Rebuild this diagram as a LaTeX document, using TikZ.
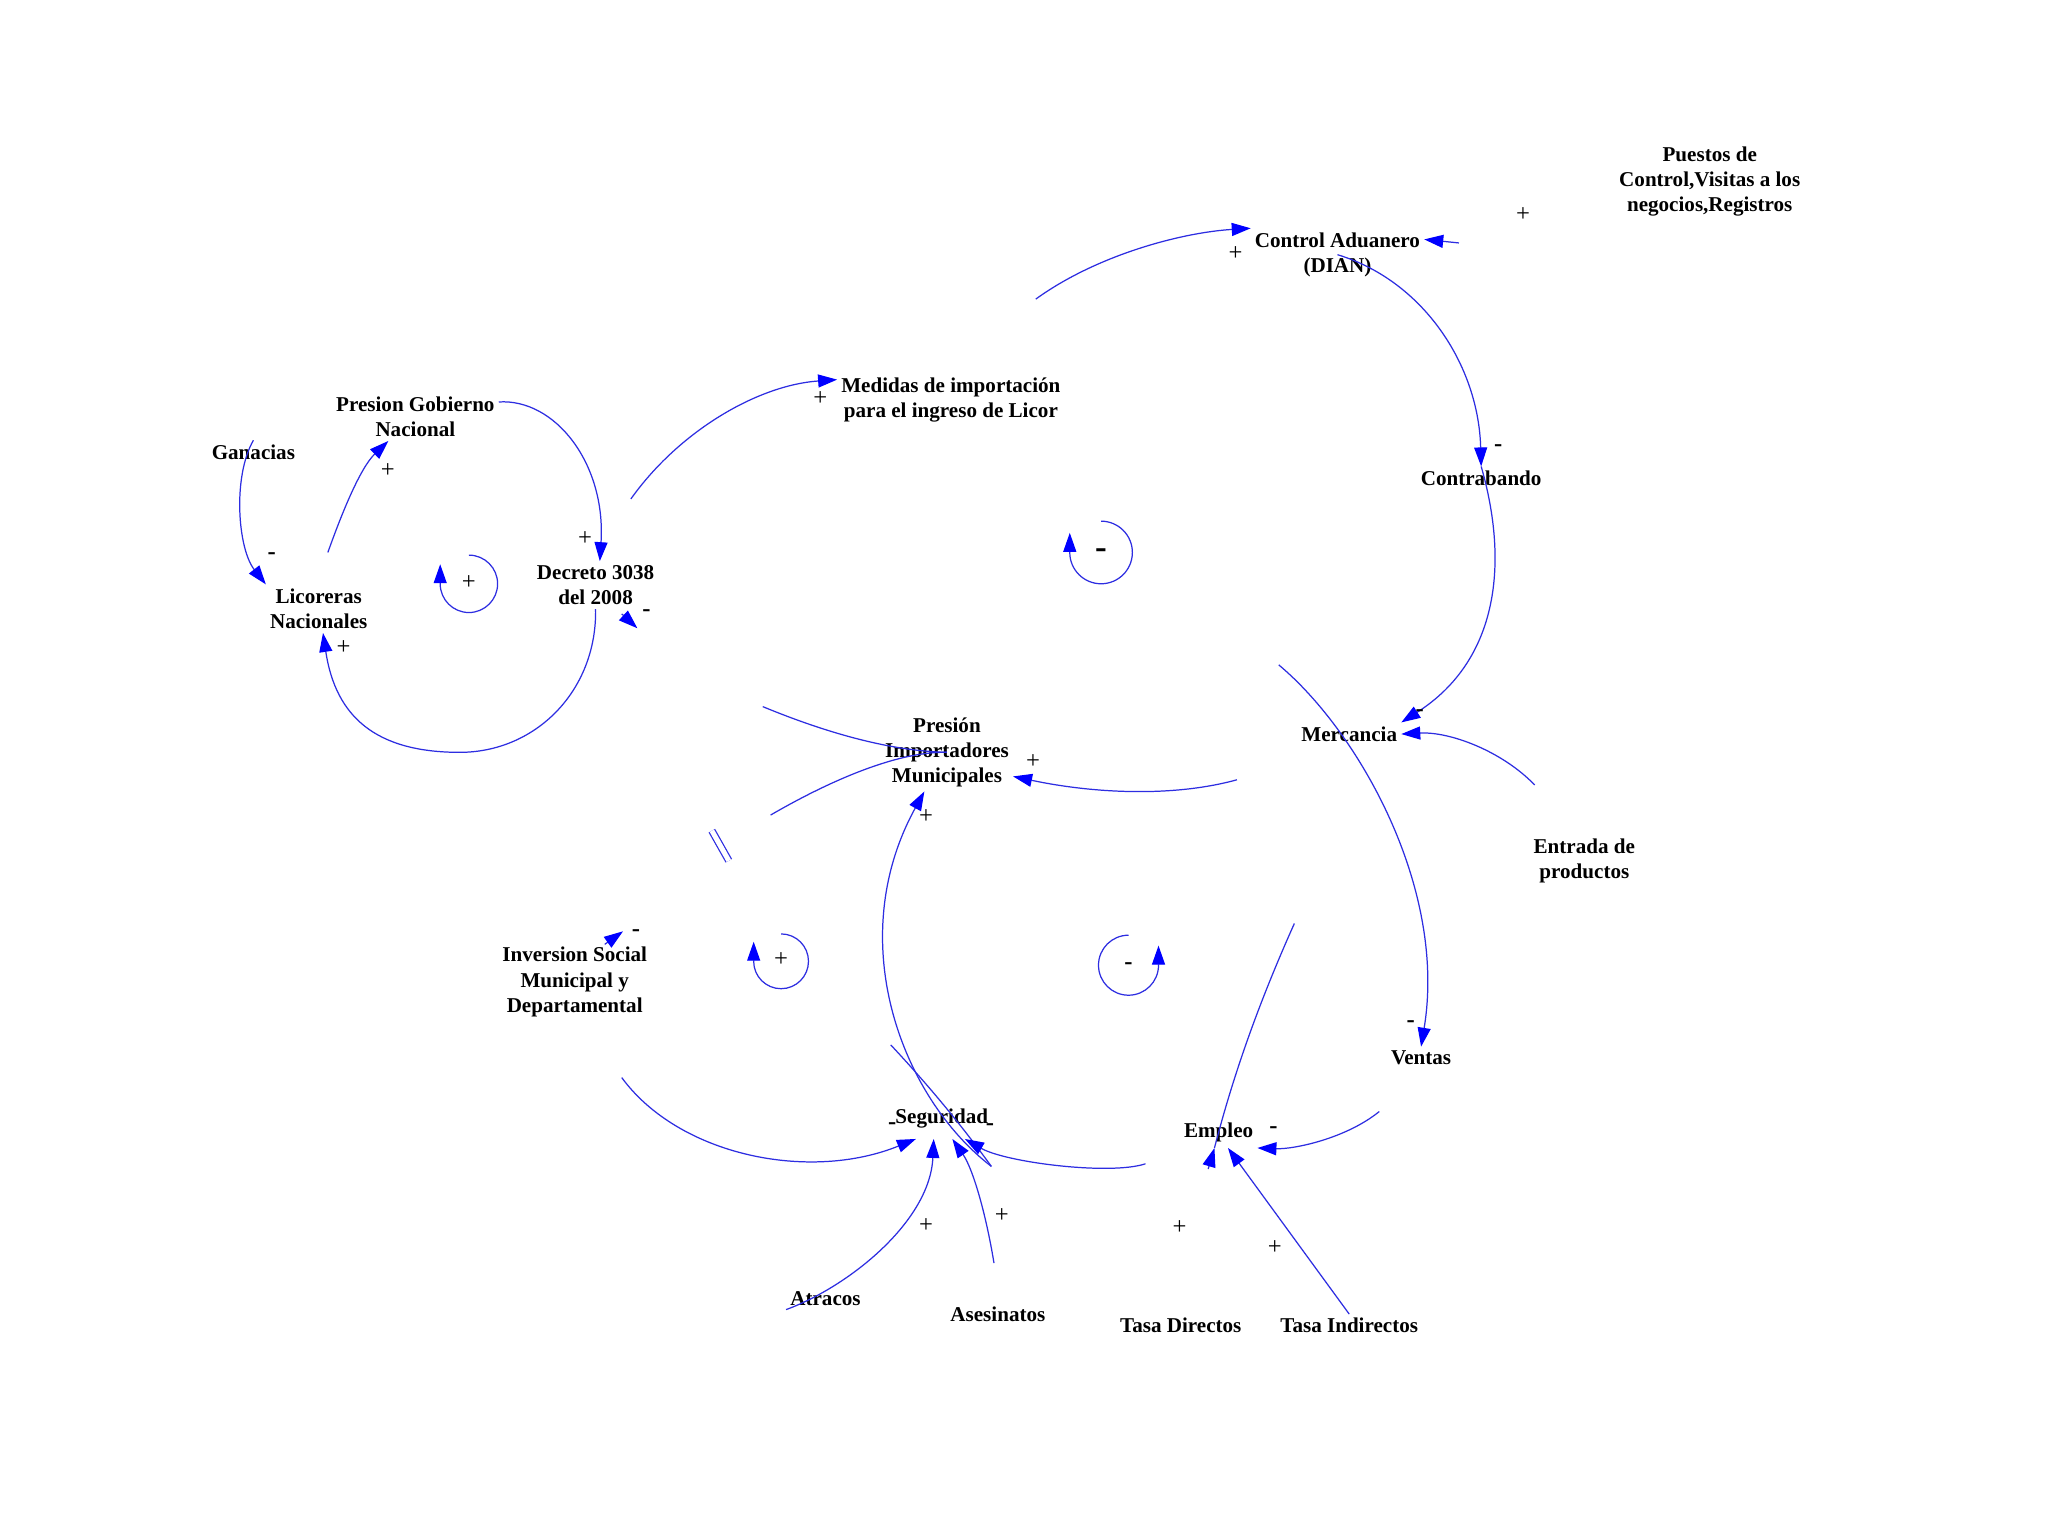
\documentclass[tikz,border=0pt]{standalone}
\usepackage{fontspec}
\setmainfont{Liberation Serif}
\usetikzlibrary{arrows.meta}
\definecolor{linkblue}{RGB}{45,45,225}

\begin{document}
\begin{tikzpicture}[x=0.1306mm, y=-0.1306mm,
    var/.style = {font=\bfseries\fontsize{6}{7.2}\selectfont, align=center, inner sep=1pt},
    sign/.style = {font=\fontsize{7}{7}\selectfont, inner sep=0pt},
    neg/.style = {font=\bfseries\fontsize{7}{7}\selectfont, inner sep=0pt},
    link/.style = {draw=linkblue, line width=0.35pt, -{Triangle[length=1.9mm, width=1.3mm, color=blue]}},
    wire/.style = {draw=linkblue, line width=0.35pt}]
    \fill[white] (0,0) rectangle (1568,1176);

    \node[var] (pue) at (1309,139) {Puestos de\\Control,Visitas a los\\negocios,Registros};
    \node[var] (ctrl) at (1024,195) {Control Aduanero\\(DIAN)};
    \node[var] (med) at (728,306) {Medidas de importación\\para el ingreso de Licor};
    \node[var] (pgn) at (318,319) {Presion Gobierno\\Nacional};
    \node[var] (gan) at (194,346) {Ganacias};
    \node[var] (lic) at (244,466) {Licoreras\\Nacionales};
    \node[var] (dec) at (456,448) {Decreto 3038\\del 2008};
    \node[var] (con) at (1134,366) {Contrabando};
    \node[var] (mer) at (1033,562) {Mercancia};
    \node[var] (ent) at (1213,659) {Entrada de\\productos};
    \node[var] (pim) at (725,576) {Presión\\Importadores\\Municipales};
    \node[var] (inv) at (440,752) {Inversion Social\\Municipal y\\Departamental};
    \node[var] (ven) at (1088,810) {Ventas};
    \node[var, inner ysep=3pt] (seg) at (721,856) {Seguridad};
    \node[var, inner ysep=1.5pt] (emp) at (933,867) {Empleo};
    \node[var] (atr) at (632,994) {Atracos};
    \node[var] (ase) at (764,1006) {Asesinatos};
    \node[var] (tdi) at (904,1015) {Tasa Directos};
    \node[var] (tin) at (1033,1015) {Tasa Indirectos};

    \coordinate (licpgn) at (251,423);
    \coordinate (decmed) at (483,382);
    \coordinate (decout) at (476,470);
    \coordinate (decend) at (488,481);
    \coordinate (medctrl) at (793,229);
    \coordinate (puectrl) at (1117,186);
    \coordinate (entmer) at (1175,601);
    \coordinate (merven) at (979,509);
    \coordinate (merpim) at (947,597);
    \coordinate (decpim) at (584,541);
    \coordinate (invpim) at (590,624);
    \coordinate (venemp) at (1056,851);
    \coordinate (segpim) at (759,893);
    \coordinate (crossa) at (682,800);
    \coordinate (invseg) at (476,825);
    \coordinate (aseseg) at (761,967);
    \coordinate (empseg) at (877,891);
    \coordinate (tdiemp) at (925,895);
    \coordinate (empline) at (991,707);
    \coordinate (invout) at (463,723);
    \coordinate (invend) at (477,713);
    \coordinate (brk1) at (545,636);
    \coordinate (brk2) at (558,659);

    \draw[link] (gan.north) .. controls (178,365) and (182,420) .. (lic.north west);
    \draw[link] (licpgn) .. controls (262,392) and (276,358) .. (pgn.222);
    \draw[link] (pgn.10) .. controls (425,305) and (464,355) .. (dec.80);
    \draw[link] (dec.south) .. controls (457,529) and (410,576) .. (352,576) .. controls (288,576) and (257,549) .. (lic.-80);
    \draw[link] (decmed) .. controls (520,330) and (580,295) .. (med.170);
    \draw[link] (medctrl) .. controls (840,195) and (905,178) .. (ctrl.north west);
    \draw[link] (puectrl) -- (ctrl.10);
    \draw[link] (ctrl.center) .. controls (1090,215) and (1132,280) .. (con.north);
    \draw[link] (con.north) .. controls (1155,430) and (1148,505) .. (mer.north east);
    \draw[link] (entmer) .. controls (1150,575) and (1110,560) .. (mer.east);
    \draw[link] (merven) .. controls (1040,560) and (1108,680) .. (ven.north);
    \draw[link] (venemp) .. controls (1030,872) and (990,880) .. (emp.south east);
    \draw[link] (merpim) .. controls (900,610) and (840,608) .. (pim.-20);
    \draw[wire] (decpim) .. controls (630,560) and (680,575) .. (pim.center);
    \draw[wire] (invpim) .. controls (640,595) and (690,575) .. (pim.center);
    \draw[link] (segpim) .. controls (690,840) and (645,720) .. (pim.240);
    \draw[wire] (crossa) .. controls (710,830) and (735,860) .. (segpim);
    \draw[link] (invseg) .. controls (520,885) and (620,905) .. (seg.219);
    \draw[link] (atr.south west) .. controls (650,985) and (712,935) .. (seg.249);
    \draw[link] (aseseg) .. controls (755,930) and (745,895) .. (seg.297);
    \draw[link] (empseg) .. controls (850,900) and (770,890) .. (seg.-42);
    \draw[link] (tdiemp) -- (emp.255);
    \draw[wire] (empline) .. controls (965,765) and (945,820) .. (emp.255);
    \draw[link] (tin.north) -- (emp.-59);
    \draw[link] (decout) -- (decend);
    \draw[link] (invout) -- (invend);
    \draw[wire, double, double distance=0.5mm] (brk1) -- (brk2);

    \draw[link] (359,425) arc[start angle=90, end angle=-180, radius=2.87mm] -- ++(0,-15);
    \draw[link] (843,399) arc[start angle=90, end angle=-180, radius=3.13mm] -- ++(0,-15);
    \draw[link] (598,715) arc[start angle=90, end angle=-180, radius=2.74mm] -- ++(0,-15);
    \draw[link] (864,716) arc[start angle=90, end angle=360, radius=3.0mm] -- ++(0,-15);

    \node[sign] (l1) at (359,446) {+};
    \node[neg, font=\bfseries\fontsize{10}{10}\selectfont] (l2) at (843,424) {-};
    \node[sign] (l3) at (598,735) {+};
    \node[neg] (l4) at (864,740) {-};

    \node[neg] (s1) at (208,426) {-};
    \node[sign] (s2) at (297,360) {+};
    \node[sign] (s3) at (448,412) {+};
    \node[sign] (s4) at (263,496) {+};
    \node[neg] (s5) at (495,469) {-};
    \node[sign] (s6) at (628,305) {+};
    \node[sign] (s7) at (946,194) {+};
    \node[sign] (s8) at (1166,164) {+};
    \node[neg] (s9) at (1147,343) {-};
    \node[neg] (s10) at (1087,546) {-};
    \node[sign] (s11) at (791,583) {+};
    \node[sign] (s12) at (709,625) {+};
    \node[neg] (s13) at (487,714) {-};
    \node[neg] (s14) at (1080,784) {-};
    \node[neg] (s15) at (975,865) {-};
    \node[neg] (s16) at (683,862) {-};
    \node[neg] (s17) at (758,863) {-};
    \node[sign] (s18) at (709,938) {+};
    \node[sign] (s19) at (767,931) {+};
    \node[sign] (s20) at (903,940) {+};
    \node[sign] (s21) at (976,955) {+};
\end{tikzpicture}
\end{document}
